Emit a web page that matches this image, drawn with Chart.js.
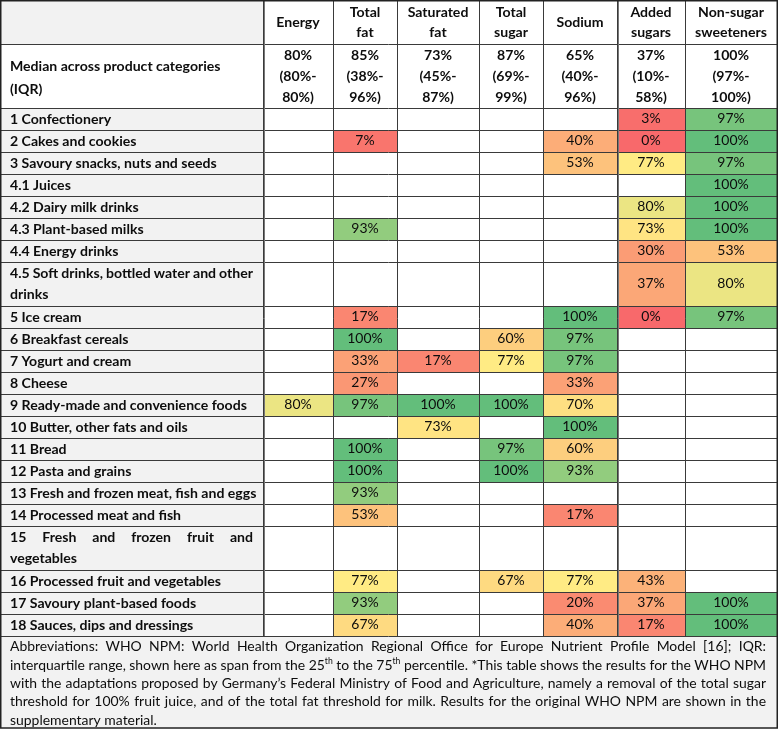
<!DOCTYPE html>
<html><head><meta charset="utf-8">
<script src="https://cdn.jsdelivr.net/npm/chart.js@4/dist/chart.umd.min.js"></script>
<style>html,body{margin:0;padding:0;background:#fff;overflow:hidden}canvas{display:block}</style>
</head><body>
<canvas id="c" width="778" height="731"></canvas>
<script>
// ---------------- DATA ----------------
// multi-line labels are arrays of lines (Chart.js convention)
const categories = [
  "1 Confectionery", "2 Cakes and cookies", "3 Savoury snacks, nuts and seeds",
  "4.1 Juices", "4.2 Dairy milk drinks", "4.3 Plant-based milks", "4.4 Energy drinks",
  ["4.5 Soft drinks, bottled water and other", "drinks"], "5 Ice cream", "6 Breakfast cereals",
  "7 Yogurt and cream", "8 Cheese", "9 Ready-made and convenience foods",
  "10 Butter, other fats and oils", "11 Bread", "12 Pasta and grains",
  "13 Fresh and frozen meat, fish and eggs", "14 Processed meat and fish",
  ["15 Fresh and frozen fruit and", "vegetables"], "16 Processed fruit and vegetables",
  "17 Savoury plant-based foods", "18 Sauces, dips and dressings"
];
const nutrients = ["Energy", ["Total", "fat"], ["Saturated", "fat"], ["Total", "sugar"], "Sodium", ["Added", "sugars"], ["Non-sugar", "sweeteners"]];
const medianRowLabel = ["Median across product categories", "(IQR)"];
const medianValues = [80, 85, 73, 87, 65, 37, 100];
const iqrLow       = [80, 38, 45, 69, 40, 10, 97];
const iqrHigh      = [80, 96, 87, 99, 96, 58, 100];
const _ = null;
//                    1  2   3   4.1 4.2 4.3 4.4 4.5 5    6    7   8   9    10   11   12   13  14  15  16  17  18
const energy       = [_, _,  _,  _,  _,  _,  _,  _,  _,   _,   _,  _,  80,  _,   _,   _,   _,  _,  _,  _,  _,  _];
const totalFat     = [_, 7,  _,  _,  _,  93, _,  _,  17,  100, 33, 27, 97,  _,   100, 100, 93, 53, _,  77, 93, 67];
const saturatedFat = [_, _,  _,  _,  _,  _,  _,  _,  _,   _,   17, _,  100, 73,  _,   _,   _,  _,  _,  _,  _,  _];
const totalSugar   = [_, _,  _,  _,  _,  _,  _,  _,  _,   60,  77, _,  100, _,   97,  100, _,  _,  _,  67, _,  _];
const sodium       = [_, 40, 53, _,  _,  _,  _,  _,  100, 97,  97, 33, 70,  100, 60,  93,  _,  17, _,  77, 20, 40];
const addedSugars  = [3, 0,  77, _,  80, 73, 30, 37, 0,   _,   _,  _,  _,   _,   _,   _,   _,  _,  _,  43, 37, 17];
const nonSugarSweeteners = [97, 100, 97, 100, 100, 100, 53, 80, 97, _, _, _, _, _, _, _, _, _, _, _, 100, 100];
const footnoteLines = [
  "Abbreviations: WHO NPM: World Health Organization Regional Office for Europe Nutrient Profile Model [16]; IQR:",
  "interquartile range, shown here as span from the 25^th to the 75^th percentile. *This table shows the results for the WHO NPM",
  "with the adaptations proposed by Germany\u2019s Federal Ministry of Food and Agriculture, namely a removal of the total sugar",
  "threshold for 100% fruit juice, and of the total fat threshold for milk. Results for the original WHO NPM are shown in the",
  "supplementary material."
];
const series = [energy, totalFat, saturatedFat, totalSugar, sodium, addedSugars, nonSugarSweeteners];

// ---------------- LAYOUT / STYLE ----------------
const FAMILY = 'Lato, "Open Sans", sans-serif';
const L = {
  colW: [263, 70, 64, 82, 64, 74, 68, 92],
  top: 0.5, headerH: 43.5, medianH: 64, rowLineH: 22, footH: 92,
  padL: 10, justifyW: 243,
  cellLineH: 21, headLineH: 20, medLineH: 21, medLabelLineH: 23, footLineH: 18.3, footFirst: 11, footPadR: 11,
  gray: '#f2f2f2', line: '#3a3a3a', text: '#0d0d0d'
};
const RED = [248, 105, 107], YEL = [255, 235, 132], GRN = [99, 190, 123];
const allVals = series.flat().filter(v => v != null).sort((a, b) => a - b);
const MID = (allVals[(allVals.length - 1) >> 1] + allVals[allVals.length >> 1]) / 2;
function scaleColor(v) {
  let a, b, t;
  if (v <= MID) { a = RED; b = YEL; t = v / MID; } else { a = YEL; b = GRN; t = (v - MID) / (100 - MID); }
  return 'rgb(' + a.map((c, k) => Math.round(c + (b[k] - c) * t)).join(',') + ')';
}
const asLines = s => Array.isArray(s) ? s : [s];

const meas = document.createElement('canvas').getContext('2d');
meas.font = 'bold 20px ' + FAMILY;
const BS = 20 * 237 / meas.measureText('9 Ready-made and convenience foods').width;
meas.font = '20px ' + FAMILY;
const RS = 20 * 147 / meas.measureText('supplementary material.').width;
const BF = 'bold ' + BS.toFixed(2) + 'px ' + FAMILY;
const RF = RS.toFixed(2) + 'px ' + FAMILY;
const SF = (RS * 0.62).toFixed(2) + 'px ' + FAMILY;

const xEdges = [0]; L.colW.forEach(w => xEdges.push(xEdges[xEdges.length - 1] + w));
let yCur = L.top;
const hdrY = [yCur, yCur + L.headerH]; yCur += L.headerH;
const medY = [yCur, yCur + L.medianH]; yCur += L.medianH;
const rowY = categories.map(c => { const h = asLines(c).length * L.rowLineH; const r = [yCur, yCur + h]; yCur += h; return r; });
const footY = [yCur, yCur + L.footH];

// ---------------- DRAWING ----------------
function drawJustified(ctx, line, x0, yc, width, justify) {
  const toks = line.split(' ').map(t => {
    const p = t.split('^'); ctx.font = RF; const bw = ctx.measureText(p[0]).width;
    let sw = 0; if (p[1]) { ctx.font = SF; sw = ctx.measureText(p[1]).width; }
    return { base: p[0], sup: p[1] || '', bw, sw, w: bw + sw };
  });
  ctx.font = RF;
  const space = ctx.measureText(' ').width;
  const total = toks.reduce((s, t) => s + t.w, 0);
  const gap = (justify && toks.length > 1) ? (width - total) / (toks.length - 1) : space;
  let x = x0;
  toks.forEach(t => {
    ctx.font = RF; ctx.fillText(t.base, x, yc);
    if (t.sup) { ctx.font = SF; ctx.fillText(t.sup, x + t.bw, yc - RS * 0.3); }
    x += t.w + gap;
  });
}

const tablePlugin = {
  id: 'tableDraw',
  beforeDatasetsDraw(chart) {
    const { ctx, scales: { x, y } } = chart;
    const X = v => x.getPixelForValue(v), Y = v => y.getPixelForValue(v);
    ctx.save();
    ctx.fillStyle = '#fff'; ctx.fillRect(X(0), Y(0), X(778) - X(0), Y(731) - Y(0));
    ctx.fillStyle = L.gray;
    ctx.fillRect(X(xEdges[0]), Y(hdrY[0]), X(xEdges[1]) - X(xEdges[0]), Y(hdrY[1]) - Y(hdrY[0]));
    ctx.fillRect(X(xEdges[0]), Y(rowY[0][0]), X(xEdges[1]) - X(xEdges[0]), Y(rowY[rowY.length - 1][1]) - Y(rowY[0][0]));
    ctx.fillRect(X(xEdges[0]), Y(footY[0]), X(xEdges[8]) - X(xEdges[0]), Y(footY[1]) - Y(footY[0]));
    chart.data.datasets.forEach((ds, j) => {
      ds.data.forEach(d => {
        const r = rowY[d.row];
        ctx.fillStyle = scaleColor(d.v);
        ctx.fillRect(X(xEdges[j + 1]), Y(r[0]), X(xEdges[j + 2]) - X(xEdges[j + 1]), Y(r[1]) - Y(r[0]));
      });
    });
    ctx.restore();
  },
  afterDatasetsDraw(chart) {
    const { ctx, scales: { x, y } } = chart;
    const X = v => x.getPixelForValue(v), Y = v => y.getPixelForValue(v);
    ctx.save();
    ctx.fillStyle = L.text; ctx.textBaseline = 'middle';
    ctx.font = RF; ctx.textAlign = 'center';
    chart.data.datasets.forEach((ds, j) => {
      const meta = chart.getDatasetMeta(j);
      meta.data.forEach((el, k) => ctx.fillText(ds.data[k].v + '%', el.x, el.y));
    });
    ctx.font = BF;
    nutrients.forEach((n, j) => {
      const ls = asLines(n);
      const cx = X((xEdges[j + 1] + xEdges[j + 2]) / 2), cy = Y((hdrY[0] + hdrY[1]) / 2);
      ls.forEach((s, k) => ctx.fillText(s, cx, cy + (k - (ls.length - 1) / 2) * L.headLineH));
    });
    medianValues.forEach((m, j) => {
      const cx = X((xEdges[j + 1] + xEdges[j + 2]) / 2), cy = Y((medY[0] + medY[1]) / 2);
      const ls = [m + '%', '(' + iqrLow[j] + '%-', iqrHigh[j] + '%)'];
      ls.forEach((s, k) => ctx.fillText(s, cx, cy + (k - 1) * L.medLineH));
    });
    ctx.textAlign = 'left';
    const lx = X(L.padL);
    const medC = Y((medY[0] + medY[1]) / 2) + 1.5;
    medianRowLabel.forEach((s, k) => ctx.fillText(s, lx, medC + (k - (medianRowLabel.length - 1) / 2) * L.medLabelLineH));
    categories.forEach((c, i) => {
      const ls = asLines(c);
      const cy = Y((rowY[i][0] + rowY[i][1]) / 2);
      ls.forEach((s, k) => {
        const yy = cy + (k - (ls.length - 1) / 2) * L.cellLineH;
        if (k < ls.length - 1) {
          const words = s.split(' ');
          const tw = words.reduce((a, w) => a + ctx.measureText(w).width, 0);
          const gap = (X(L.padL + L.justifyW) - lx - tw) / (words.length - 1);
          let xx = lx; words.forEach(w => { ctx.fillText(w, xx, yy); xx += ctx.measureText(w).width + gap; });
        } else ctx.fillText(s, lx, yy);
      });
    });
    const fw = X(xEdges[8] - L.footPadR) - lx;
    footnoteLines.forEach((s, k) => drawJustified(ctx, s, lx, Y(footY[0] + L.footFirst + k * L.footLineH), fw, k < footnoteLines.length - 1));
    ctx.strokeStyle = L.line; ctx.lineWidth = 1;
    const snap = p => Math.round(p) + 0.5;
    ctx.beginPath();
    [hdrY[1], medY[1], ...rowY.map(r => r[1])].forEach(v => { ctx.moveTo(X(0), snap(Y(v))); ctx.lineTo(X(xEdges[8]), snap(Y(v))); });
    xEdges.slice(1, 8).forEach(v => { ctx.moveTo(snap(X(v)), Y(hdrY[0])); ctx.lineTo(snap(X(v)), Y(footY[0])); });
    ctx.stroke();
    ctx.strokeStyle = '#777'; ctx.lineWidth = 1;
    ctx.beginPath();
    [xEdges[1], xEdges[6]].forEach(v => { ctx.moveTo(snap(X(v)) + 1, Y(hdrY[0])); ctx.lineTo(snap(X(v)) + 1, Y(footY[0])); });
    ctx.stroke();
    ctx.strokeStyle = '#222'; ctx.lineWidth = 1.5;
    ctx.strokeRect(X(0) + 0.75, Y(0) + 0.75, X(xEdges[8]) - X(0) - 0.5, Y(footY[1]) - Y(0) - 0.75);
    ctx.restore();
  }
};

new Chart(document.getElementById('c'), {
  type: 'scatter',
  data: {
    datasets: series.map((arr, j) => ({
      label: asLines(nutrients[j]).join(' '),
      data: arr.map((v, i) => v == null ? null : {
        x: (xEdges[j + 1] + xEdges[j + 2]) / 2, y: (rowY[i][0] + rowY[i][1]) / 2, v, row: i
      }).filter(d => d),
      pointRadius: 0, pointHoverRadius: 0
    }))
  },
  options: {
    responsive: false, animation: false, events: [],
    layout: { padding: 0 },
    plugins: { legend: { display: false }, tooltip: { enabled: false } },
    scales: {
      x: { type: 'linear', display: false, min: 0, max: 778 },
      y: { type: 'linear', display: false, min: 0, max: 731, reverse: true }
    }
  },
  plugins: [tablePlugin]
});
</script>
</body></html>
